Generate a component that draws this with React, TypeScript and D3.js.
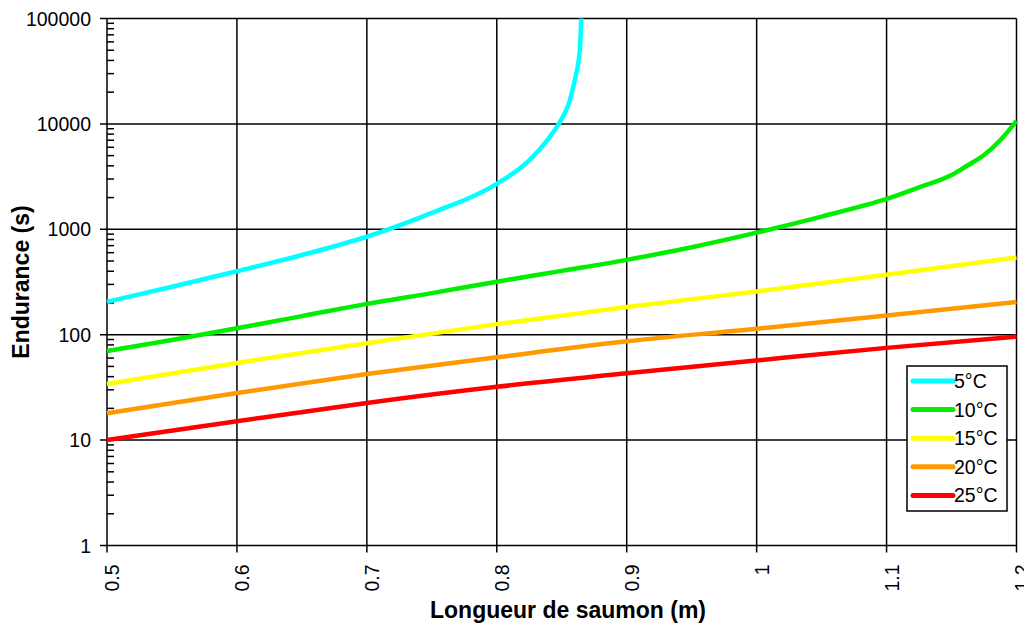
import React from 'react';
import * as d3 from 'd3';

// salmon length (m) and endurance (s)
const lengths = [0.5, 0.6, 0.7, 0.8, 0.9, 1.0, 1.1, 1.2];

const cyanLengths = [0.5, 0.55, 0.6, 0.65, 0.7, 0.75, 0.8, 0.825, 0.84, 0.85, 0.855, 0.86, 0.863, 0.864, 0.865];
const endurance5 = [205, 285, 400, 570, 850, 1430, 2700, 4500, 7300, 11200, 15000, 26000, 40000, 52000, 100000];

const greenLengths = [0.5, 0.55, 0.6, 0.65, 0.7, 0.75, 0.8, 0.85, 0.9, 0.95, 1.0, 1.05, 1.1, 1.125, 1.15, 1.1625, 1.175, 1.1875, 1.2];
const endurance10 = [70, 89, 115, 150, 196, 248, 318, 403, 513, 676, 929, 1320, 1940, 2500, 3270, 4050, 5070, 7000, 10700];

const endurance15 = [34, 54, 83, 126, 183, 257, 370, 540];
const endurance20 = [18, 28, 42.4, 61, 86.5, 114, 152, 204];
const endurance25 = [10, 15.1, 22.5, 32, 43, 57, 75, 96];

const seriesNames = ['5°C', '10°C', '15°C', '20°C', '25°C'];
const seriesColors = ['#00ffff', '#00ee00', '#ffff00', '#ff9900', '#ff0000'];

const xTicks = [0.5, 0.6, 0.7, 0.8, 0.9, 1, 1.1, 1.2];
const yTicks = [1, 10, 100, 1000, 10000, 100000];

const W = 1024;
const H = 626;
const font = '"Liberation Sans", Arial, sans-serif';

export default function App() {
  const left = 107;
  const right = 1016.5;
  const top = 18.5;
  const bottom = 545.5;

  const x = d3.scaleLinear().domain([0.5, 1.2]).range([left, right]);
  const y = d3.scaleLog().domain([1, 100000]).range([bottom, top]);

  const line = d3.line<[number, number]>()
    .x((d) => x(d[0]))
    .y((d) => y(d[1]))
    .curve(d3.curveMonotoneX);

  const series = [
    d3.zip(cyanLengths, endurance5),
    d3.zip(greenLengths, endurance10),
    d3.zip(lengths, endurance15),
    d3.zip(lengths, endurance20),
    d3.zip(lengths, endurance25),
  ] as [number, number][][];

  // minor ticks 2..9 in every decade
  const minor: number[] = [];
  for (let p = 0; p < 5; p += 1) {
    for (let m = 2; m <= 9; m += 1) minor.push(m * 10 ** p);
  }

  const legendX = 907;
  const legendY = 366;

  return (
    <div style={{ position: 'absolute', left: 0, top: 0 }}>
      <svg width={W} height={H} style={{ display: 'block', background: '#fff' }} fontFamily={font}>
        {/* grid */}
        <g stroke="#000" strokeWidth={1.5}>
          {xTicks.map((t) => (
            <line key={`gx${t}`} x1={x(t)} x2={x(t)} y1={top} y2={bottom + 7} />
          ))}
          {yTicks.map((t) => (
            <line key={`gy${t}`} x1={left - 7} x2={right} y1={y(t)} y2={y(t)} />
          ))}
          {minor.map((t) => (
            <line key={`m${t}`} x1={left} x2={left + 7} y1={y(t)} y2={y(t)} />
          ))}
        </g>

        {/* y tick labels */}
        <g fontSize={19.5} fill="#000" textAnchor="end">
          {yTicks.map((t) => (
            <text key={`ly${t}`} x={left - 16} y={y(t)} dy="0.36em">{t}</text>
          ))}
        </g>

        {/* x tick labels, rotated; the last one is cut by the frame edge as in the original */}
        <g fontSize={19.5} fill="#000" textAnchor="end">
          {xTicks.map((t) => (
            <text
              key={`lx${t}`}
              transform={`translate(${x(t) + 5},${bottom + 19}) rotate(-90)`}
              dy="0.36em"
            >
              {t}
            </text>
          ))}
        </g>

        {/* curves */}
        <g fill="none" strokeWidth={4.5} strokeLinejoin="round">
          {series.map((s, i) => (
            <path key={seriesNames[i]} d={line(s) ?? ''} stroke={seriesColors[i]} />
          ))}
        </g>

        {/* axis titles */}
        <text x={568} y={618} fontSize={23} fontWeight="bold" textAnchor="middle">
          Longueur de saumon (m)
        </text>
        <text
          transform={`translate(29,${(top + bottom) / 2}) rotate(-90)`}
          fontSize={23}
          fontWeight="bold"
          textAnchor="middle"
        >
          Endurance (s)
        </text>

        {/* legend */}
        <rect x={legendX} y={legendY} width={100} height={145} fill="#fff" stroke="#000" strokeWidth={1.5} />
        {seriesNames.map((name, i) => (
          <g key={`lg${name}`} transform={`translate(${legendX},${legendY + 15 + i * 28.6})`}>
            <line x1={6} x2={46} stroke={seriesColors[i]} strokeWidth={5} strokeLinecap="round" />
            <text x={47} dy="0.36em" fontSize={19.5}>{name}</text>
          </g>
        ))}
      </svg>
    </div>
  );
}
